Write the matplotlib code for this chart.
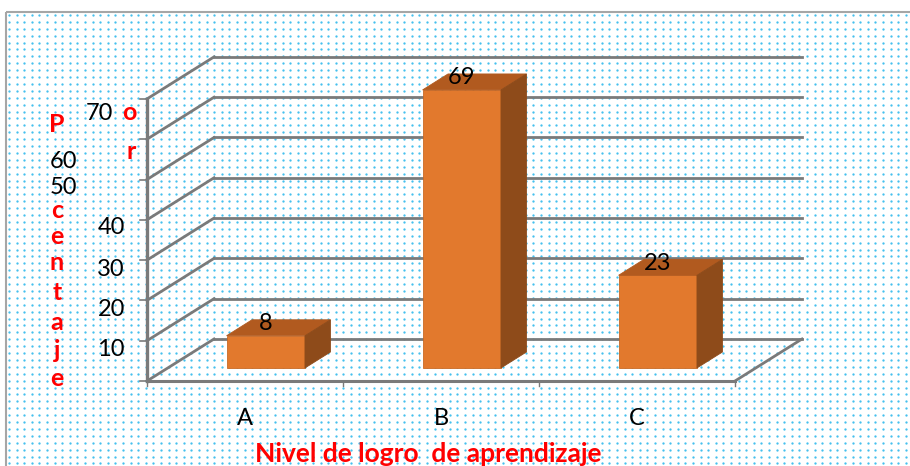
import numpy as np
import matplotlib.pyplot as plt
from matplotlib.patches import Polygon, Rectangle

# datos
categorias = ["A", "B", "C"]
valores = [8, 69, 23]
ticks_y = [10, 20, 30, 40, 50, 60, 70]

W, H = 910, 466
plt.rcParams['font.family'] = ['Lato', 'DejaVu Sans']

fig = plt.figure(figsize=(W / 100, H / 100), dpi=100)

# fondo punteado (relleno tipo Excel)
bg = fig.add_axes([0, 0, 1, 1])
bg.set_xlim(0, W)
bg.set_ylim(H, 0)
bg.axis("off")
gx, gy = np.meshgrid(np.arange(9, W, 7.6), np.arange(15, H, 6.9))
bg.scatter(gx.ravel(), gy.ravel(), s=2.8, color="#45c0ee", linewidths=0)
bg.add_patch(Rectangle((6, 12), W, H, fill=False, edgecolor="#a6a6a6", lw=1.5))

# ejes principales: x en categorias, y en porcentaje
X0, XS = 147, 196.0    # px del x=0, px por categoria
Y0, YS = 381, 4.03     # px del y=0, px por unidad
DX, DY = 67 / XS, 42 / YS   # desplazamiento de profundidad
ax = fig.add_axes([0, 0, 1, 1])
ax.set_xlim(-X0 / XS, (W - X0) / XS)
ax.set_ylim((Y0 - H) / YS, Y0 / YS)
ax.axis("off")
ax.patch.set_alpha(0)

gris = "#7a7a7a"
n = len(categorias)
# pared trasera y lateral
for v in [0] + ticks_y:
    ax.plot([DX, n + DX], [v + DY, v + DY], color=gris, lw=2.0, zorder=1)
    ax.plot([0, DX], [v, v + DY], color=gris, lw=2.0, zorder=1)
# piso
ax.plot([0, n], [0, 0], color=gris, lw=2.2, zorder=1)
ax.plot([n, n + DX], [0, DY], color=gris, lw=2.0, zorder=1)
for i in range(n + 1):
    ax.plot([i, i], [0, -1.2], color=gris, lw=1.0, zorder=1)
# eje vertical
ax.plot([0, 0], [0, 70], color=gris, lw=2.4, zorder=5)
for v in [0] + ticks_y:
    ax.plot([-0.035, 0], [v, v], color=gris, lw=1.2, zorder=5)

# barras 3D
f1, f2, hw = 0.31, 0.69, 0.2
c_frente, c_arriba, c_lado = "#e2792d", "#b15a1f", "#8e4b1a"
for i, (cat, val) in enumerate(zip(categorias, valores)):
    xl = i + 0.5 - hw + f1 * DX
    xr = i + 0.5 + hw + f1 * DX
    yb = f1 * DY
    yt = val + f1 * DY
    ox, oy = (f2 - f1) * DX, (f2 - f1) * DY
    ax.add_patch(Polygon([(xl, yb), (xr, yb), (xr, yt), (xl, yt)],
                         facecolor=c_frente, edgecolor="#c96a25", lw=0.6, zorder=3))
    ax.add_patch(Polygon([(xl, yt), (xr, yt), (xr + ox, yt + oy), (xl + ox, yt + oy)],
                         facecolor=c_arriba, edgecolor=c_arriba, lw=0.6, zorder=3))
    ax.add_patch(Polygon([(xr, yb), (xr + ox, yb + oy), (xr + ox, yt + oy), (xr, yt)],
                         facecolor=c_lado, edgecolor=c_lado, lw=0.6, zorder=3))
    ax.text((xl + xr) / 2, val + 0.6 * DY, str(val), ha="center", va="center",
            fontsize=17, color="black", zorder=6)
    ax.text(i + 0.5, -9.2, cat, ha="center", va="center", fontsize=17, zorder=6)


def px(x, y):
    return x / W, 1 - y / H


# etiquetas del eje y (tal como aparecen desplazadas)
pos_ticks = {70: (113, 113), 60: (77, 162), 50: (77, 188),
             40: (125, 228), 30: (125, 269), 20: (125, 310), 10: (125, 350)}
for v in ticks_y:
    fig.text(*px(*pos_ticks[v]), str(v), ha="right", va="center", fontsize=17)

# titulo del eje y, letra por letra
letras = [("P", 57, 125), ("o", 129, 113), ("r", 131, 152), ("c", 57, 210),
          ("e", 57, 236), ("n", 57, 263), ("t", 57, 292), ("a", 57, 322),
          ("j", 57, 351), ("e", 57, 378)]
for ch, x, y in letras:
    fig.text(*px(x, y), ch, ha="center", va="center", fontsize=18,
             fontweight="bold", color="#ff0000")

fig.text(*px(428, 462), "Nivel de logro  de aprendizaje", ha="center",
         va="baseline", fontsize=19, fontweight="bold", color="#ff0000")

fig.savefig("out.png", dpi=100)
